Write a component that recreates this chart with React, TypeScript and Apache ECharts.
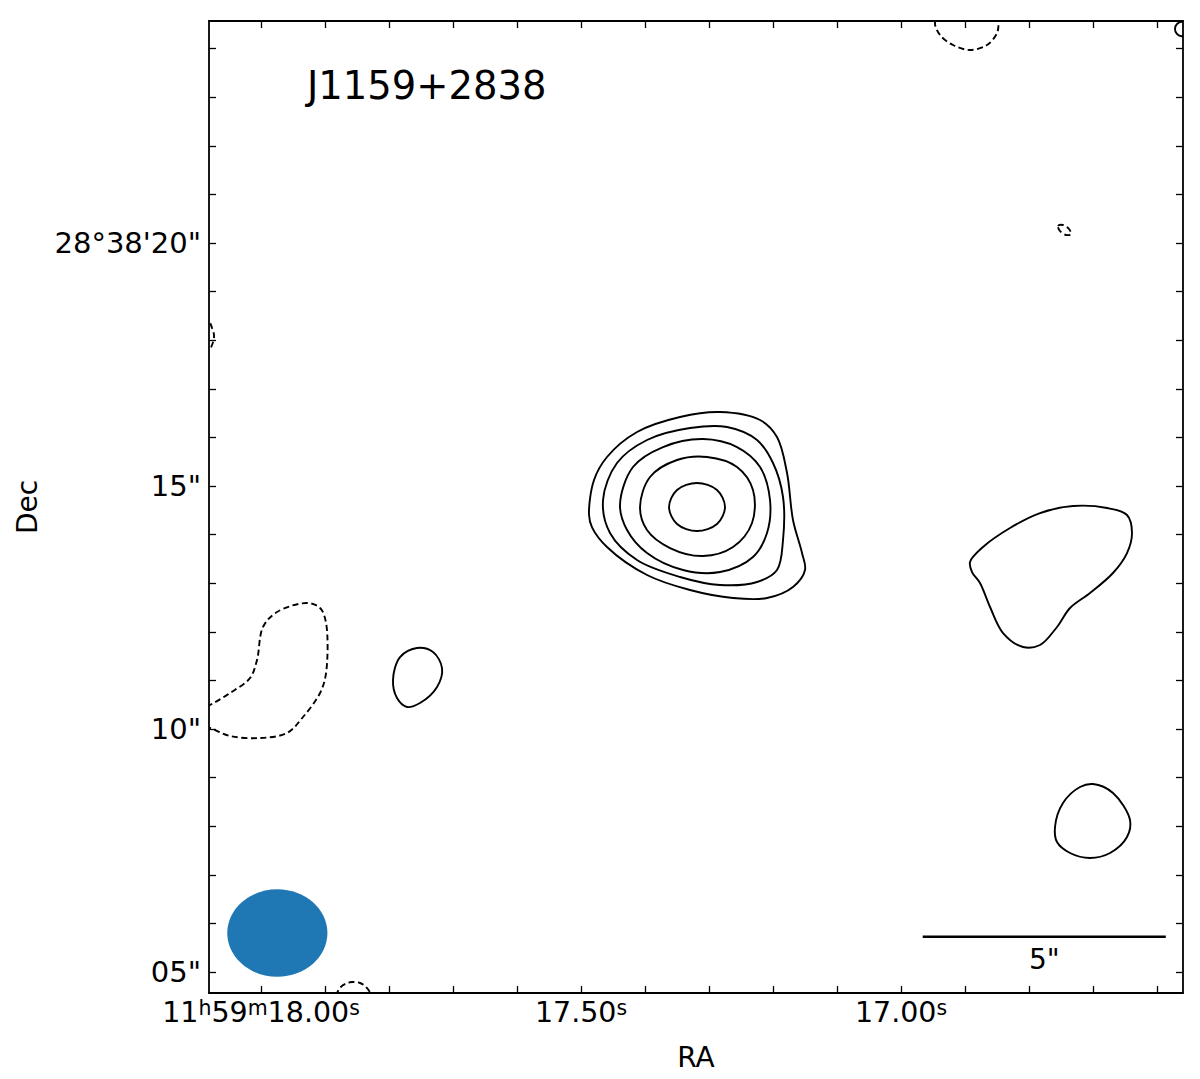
import React, { useEffect, useRef } from "react";
import * as echarts from "echarts";

const FONT = "'DejaVu Sans', 'Liberation Sans', sans-serif";

// ---- axis extents (RA in seconds of 11h59m, Dec in arcsec of +28°38') ----
const RA_LEFT = 18.0813;
const RA_RIGHT = 16.5594;
const DEC_BOTTOM = 4.568;
const DEC_TOP = 24.568;

// ---- ticks & labels ----
const RA_TICKS = [16.6, 16.7, 16.8, 16.9, 17.0, 17.1, 17.2, 17.3, 17.4, 17.5, 17.6, 17.7, 17.8, 17.9, 18.0];
const RA_LABELS = [17.0, 17.5, 18.0];
const DEC_TICKS = [5, 6, 7, 8, 9, 10, 11, 12, 13, 14, 15, 16, 17, 18, 19, 20, 21, 22, 23, 24];
const DEC_LABELS = [5, 10, 15, 20];
const RA_HOURS = "11";
const RA_MINUTES = "59";
const DEC_DEGREES = "28";
const DEC_ARCMIN = "38";

const TITLE = "J1159+2838";
const X_NAME = "RA";
const Y_NAME = "Dec";

// ---- contours: [RA s, Dec arcsec] ----
const CORE_1 = [
  [17.4875, 14.403], [17.4828, 14.15], [17.4594, 13.745], [17.3969, 13.169],
  [17.3297, 12.86], [17.2625, 12.695], [17.2094, 12.695], [17.1688, 12.922],
  [17.15, 13.272], [17.1547, 13.621], [17.1688, 14.3], [17.1781, 15.267],
  [17.1938, 16.008], [17.2203, 16.358], [17.2828, 16.523], [17.3453, 16.42],
  [17.4125, 16.111], [17.4594, 15.597], [17.4797, 15.123],
];
const CORE_2 = [
  [17.4656, 14.712], [17.4547, 14.033], [17.4125, 13.477], [17.3453, 13.128],
  [17.2828, 12.963], [17.225, 13.025], [17.1938, 13.272], [17.1844, 13.889],
  [17.1844, 14.774], [17.2, 15.473], [17.225, 15.947], [17.2719, 16.214],
  [17.3297, 16.193], [17.3969, 15.947], [17.4438, 15.473],
];
const CORE_3 = [
  [17.4391, 14.609], [17.4281, 14.095], [17.3969, 13.621], [17.3406, 13.272],
  [17.2828, 13.23], [17.2313, 13.539], [17.2094, 14.033], [17.2047, 14.712],
  [17.2203, 15.391], [17.2563, 15.802], [17.3094, 15.967], [17.3719, 15.802],
  [17.4188, 15.391],
];
const CORE_4 = [
  [17.4078, 14.568], [17.3969, 14.095], [17.3609, 13.724], [17.3094, 13.56],
  [17.2625, 13.745], [17.2328, 14.239], [17.2313, 14.918], [17.2563, 15.391],
  [17.3031, 15.597], [17.35, 15.535], [17.3922, 15.185],
];
const CORE_5 = [
  [17.3625, 14.568], [17.35, 14.218], [17.3188, 14.074], [17.2875, 14.218],
  [17.275, 14.568], [17.2875, 14.918], [17.3188, 15.062], [17.35, 14.918],
];
const SMALL_POS = [
  [17.7938, 11.008], [17.7875, 10.638], [17.7719, 10.453], [17.7516, 10.535],
  [17.725, 10.864], [17.7172, 11.255], [17.7313, 11.584], [17.7563, 11.667],
  [17.7828, 11.481],
];
const EAST_POS = [
  [16.8922, 13.436], [16.8719, 13.745], [16.8297, 14.136], [16.7828, 14.444],
  [16.7313, 14.588], [16.6781, 14.547], [16.6469, 14.403], [16.6391, 14.033],
  [16.6469, 13.621], [16.6688, 13.21], [16.7047, 12.798], [16.7359, 12.49],
  [16.7563, 12.099], [16.7828, 11.728], [16.8094, 11.687], [16.8406, 11.975],
  [16.8609, 12.51], [16.8766, 13.004], [16.8891, 13.23],
];
const SE_POS = [
  [16.7594, 7.984], [16.7563, 7.675], [16.7359, 7.449], [16.7047, 7.346],
  [16.6734, 7.449], [16.6469, 7.778], [16.6422, 8.128], [16.6688, 8.683],
  [16.7, 8.868], [16.7203, 8.807], [16.7469, 8.477],
];
const NE_POS = [
  [16.5484, 24.403], [16.5594, 24.547], [16.5688, 24.506], [16.5719, 24.403],
  [16.5688, 24.3], [16.5594, 24.259],
];
const WEST_NEG = [
  [18.1109, 10.288], [18.0797, 10.494], [18.0484, 10.741], [18.0172, 11.049],
  [18.0063, 11.42], [17.9969, 12.099], [17.975, 12.407], [17.9281, 12.593],
  [17.9078, 12.49], [17.8984, 12.181], [17.8984, 11.152], [17.9078, 10.741],
  [17.9344, 10.247], [17.9594, 9.918], [18.0016, 9.815], [18.0484, 9.856],
  [18.0797, 10.021], [18.1109, 10.144],
];
const NORTH_NEG = [
  [16.9313, 24.897], [16.9469, 24.547], [16.9391, 24.28], [16.9188, 24.074],
  [16.8922, 23.971], [16.8656, 24.074], [16.85, 24.321], [16.8484, 24.547],
  [16.8609, 24.897],
];
const SPECK_NEG = [
  [16.7547, 20.35], [16.7469, 20.37], [16.7375, 20.288], [16.7344, 20.185],
  [16.7422, 20.165], [16.7516, 20.247],
];
const EDGE_W_NEG = [
  [18.0953, 18.086], [18.0813, 18.374], [18.0766, 18.251], [18.0734, 18.086],
  [18.0766, 17.901], [18.0813, 17.798],
];
const EDGE_S_NEG = [
  [17.8813, 4.506], [17.8766, 4.671], [17.8672, 4.763], [17.8578, 4.794],
  [17.8453, 4.774], [17.8359, 4.691], [17.8297, 4.547], [17.8563, 4.321],
];

const POSITIVE = [CORE_1, CORE_2, CORE_3, CORE_4, CORE_5, SMALL_POS, EAST_POS, SE_POS, NE_POS];
const NEGATIVE = [WEST_NEG, NORTH_NEG, SPECK_NEG, EDGE_W_NEG, EDGE_S_NEG];

// ---- beam & scale bar ----
const DEC0_DEG = 28 + 38 / 60 + 14.6 / 3600;
const ARCSEC_PER_RA_SEC = 15 * Math.cos((DEC0_DEG * Math.PI) / 180);
const BEAM_CENTER = [17.9745, 5.802];
const BEAM_MAJOR_ARCSEC = 2.06;
const BEAM_MINOR_ARCSEC = 1.8;
const SCALEBAR_START = [16.9661, 5.726];
const SCALEBAR_ARCSEC = 5;
const SCALEBAR_LABEL_DEC = 5.257;

const near = (a: number, b: number) => Math.abs(a - b) < 1e-6;

// closed centripetal Catmull-Rom spline through pixel points -> SVG path data
function closedSplinePath(p: number[][]): string {
  const n = p.length;
  const f = (v: number) => v.toFixed(2);
  let d = `M${f(p[0][0])},${f(p[0][1])}`;
  for (let i = 0; i < n; i++) {
    const p0 = p[(i - 1 + n) % n];
    const p1 = p[i];
    const p2 = p[(i + 1) % n];
    const p3 = p[(i + 2) % n];
    const a1 = Math.max(Math.sqrt(Math.hypot(p1[0] - p0[0], p1[1] - p0[1])), 1e-6);
    const a2 = Math.max(Math.sqrt(Math.hypot(p2[0] - p1[0], p2[1] - p1[1])), 1e-6);
    const a3 = Math.max(Math.sqrt(Math.hypot(p3[0] - p2[0], p3[1] - p2[1])), 1e-6);
    const b1 = [0, 1].map(
      (k) => (a1 * a1 * p2[k] - a2 * a2 * p0[k] + (2 * a1 * a1 + 3 * a1 * a2 + a2 * a2) * p1[k]) / (3 * a1 * (a1 + a2))
    );
    const b2 = [0, 1].map(
      (k) => (a3 * a3 * p1[k] - a2 * a2 * p3[k] + (2 * a3 * a3 + 3 * a3 * a2 + a2 * a2) * p2[k]) / (3 * a3 * (a3 + a2))
    );
    d += `C${f(b1[0])},${f(b1[1])} ${f(b2[0])},${f(b2[1])} ${f(p2[0])},${f(p2[1])}`;
  }
  return d + "Z";
}

function buildOption() {
  const raLabelFormatter = (v: number) => {
    const sec = v.toFixed(2);
    if (near(v, Math.max(...RA_LABELS))) {
      return `{n|${RA_HOURS}}{s|h}{n|${RA_MINUTES}}{s|m}{n|${sec}}{s|s}`;
    }
    return `{n|${sec}}{s|s}`;
  };
  const decLabelFormatter = (v: number) => {
    const r = Math.round(v);
    const s = String(r).padStart(2, "0");
    if (r === Math.max(...DEC_LABELS)) return `${DEC_DEGREES}°${DEC_ARCMIN}'${s}"`;
    return `${s}"`;
  };

  const lineStyle = { color: "#000", width: 1.8 };
  const tickStyle = { color: "#000", width: 1.3 };

  const contourRender = (set: number[][][], dashed: boolean) => (params: any, api: any) => {
    const pts = set[api.value(2)];
    const points = pts.map((p) => api.coord(p));
    return {
      type: "path",
      shape: { pathData: closedSplinePath(points) },
      style: {
        fill: "none",
        stroke: "#000",
        lineWidth: 1.9,
        lineDash: dashed ? [6, 3.5] : null,
      },
    };
  };

  const scaleEnd = SCALEBAR_START[0] - SCALEBAR_ARCSEC / ARCSEC_PER_RA_SEC;

  return {
    animation: false,
    backgroundColor: "#fff",
    title: {
      text: TITLE,
      left: 302,
      top: 61,
      textStyle: { fontSize: 38.5, fontWeight: "normal", fontFamily: FONT, color: "#000" },
    },
    grid: { left: 209, top: 21, width: 974, height: 972, containLabel: false, outerBoundsMode: "none" },
    xAxis: [
      {
        type: "value",
        min: RA_RIGHT,
        max: RA_LEFT,
        inverse: true,
        position: "bottom",
        name: X_NAME,
        nameLocation: "middle",
        nameGap: 50,
        nameTextStyle: { fontSize: 28, fontFamily: FONT, color: "#000" },
        splitLine: { show: false },
        axisLine: { show: true, onZero: false, lineStyle },
        axisTick: { show: true, inside: true, length: 7, customValues: RA_TICKS, lineStyle: tickStyle },
        axisLabel: {
          show: true,
          customValues: RA_LABELS,
          margin: 4,
          formatter: raLabelFormatter,
          fontFamily: FONT,
          color: "#000",
          rich: {
            n: { fontSize: 28.5, lineHeight: 31, fontFamily: FONT, color: "#000" },
            s: { fontSize: 20.5, lineHeight: 20, verticalAlign: "top", fontFamily: FONT, color: "#000" },
          },
        },
      },
      {
        type: "value",
        min: RA_RIGHT,
        max: RA_LEFT,
        inverse: true,
        position: "top",
        splitLine: { show: false },
        axisLine: { show: true, onZero: false, lineStyle },
        axisTick: { show: true, inside: true, length: 7, customValues: RA_TICKS, lineStyle: tickStyle },
        axisLabel: { show: false },
      },
    ],
    yAxis: [
      {
        type: "value",
        min: DEC_BOTTOM,
        max: DEC_TOP,
        position: "left",
        name: Y_NAME,
        nameLocation: "middle",
        nameRotate: 90,
        nameGap: 168,
        nameTextStyle: { fontSize: 28, fontFamily: FONT, color: "#000" },
        splitLine: { show: false },
        axisLine: { show: true, onZero: false, lineStyle },
        axisTick: { show: true, inside: true, length: 7, customValues: DEC_TICKS, lineStyle: tickStyle },
        axisLabel: {
          show: true,
          customValues: DEC_LABELS,
          margin: 8,
          formatter: decLabelFormatter,
          fontSize: 29,
          fontFamily: FONT,
          color: "#000",
        },
      },
      {
        type: "value",
        min: DEC_BOTTOM,
        max: DEC_TOP,
        position: "right",
        splitLine: { show: false },
        axisLine: { show: true, onZero: false, lineStyle },
        axisTick: { show: true, inside: true, length: 7, customValues: DEC_TICKS, lineStyle: tickStyle },
        axisLabel: { show: false },
      },
    ],
    series: [
      {
        type: "custom",
        name: "positive contours",
        coordinateSystem: "cartesian2d",
        xAxisIndex: 0,
        yAxisIndex: 0,
        clip: true,
        silent: true,
        data: POSITIVE.map((c, i) => [c[0][0], c[0][1], i]),
        encode: { x: 0, y: 1 },
        renderItem: contourRender(POSITIVE, false),
        z: 3,
      },
      {
        type: "custom",
        name: "negative contours",
        coordinateSystem: "cartesian2d",
        xAxisIndex: 0,
        yAxisIndex: 0,
        clip: true,
        silent: true,
        data: NEGATIVE.map((c, i) => [c[0][0], c[0][1], i]),
        encode: { x: 0, y: 1 },
        renderItem: contourRender(NEGATIVE, true),
        z: 3,
      },
      {
        type: "custom",
        name: "beam",
        coordinateSystem: "cartesian2d",
        xAxisIndex: 0,
        yAxisIndex: 0,
        silent: true,
        data: [[BEAM_CENTER[0], BEAM_CENTER[1], BEAM_MAJOR_ARCSEC / ARCSEC_PER_RA_SEC, BEAM_MINOR_ARCSEC]],
        encode: { x: 0, y: 1 },
        renderItem: (params: any, api: any) => {
          const c = api.coord([api.value(0), api.value(1)]);
          const s = api.size([api.value(2), api.value(3)]);
          return {
            type: "ellipse",
            shape: { cx: c[0], cy: c[1], rx: s[0] / 2, ry: s[1] / 2 },
            style: { fill: "#1f77b4" },
          };
        },
        z: 2,
      },
      {
        type: "line",
        name: "scale bar",
        xAxisIndex: 0,
        yAxisIndex: 0,
        silent: true,
        symbol: "none",
        data: [
          [SCALEBAR_START[0], SCALEBAR_START[1]],
          [scaleEnd, SCALEBAR_START[1]],
        ],
        lineStyle: { color: "#000", width: 2.6 },
        z: 4,
      },
    ],
  };
}

export default function App() {
  const ref = useRef<HTMLDivElement>(null);
  useEffect(() => {
    if (!ref.current) return;
    const chart = echarts.init(ref.current, null, { renderer: "svg" });
    chart.setOption(buildOption() as any);
    const scaleEnd = SCALEBAR_START[0] - SCALEBAR_ARCSEC / ARCSEC_PER_RA_SEC;
    const mid = (SCALEBAR_START[0] + scaleEnd) / 2;
    const px = chart.convertToPixel({ xAxisIndex: 0, yAxisIndex: 0 } as any, [mid, SCALEBAR_LABEL_DEC]) as number[];
    chart.setOption({
      graphic: [
        {
          type: "text",
          x: px[0],
          y: px[1],
          silent: true,
          z: 10,
          style: {
            text: `${SCALEBAR_ARCSEC}"`,
            fontSize: 28,
            fontFamily: FONT,
            fill: "#000",
            textAlign: "center",
            textVerticalAlign: "middle",
          },
        },
      ],
    } as any);
    return () => chart.dispose();
  }, []);
  return (
    <div
      ref={ref}
      style={{ position: "fixed", left: 0, top: 0, width: 1200, height: 1079, background: "#fff" }}
    />
  );
}
